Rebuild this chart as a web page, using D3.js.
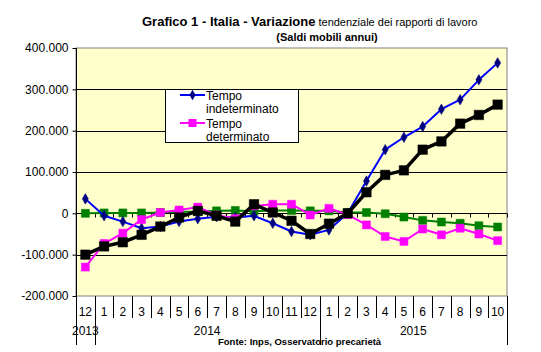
<!DOCTYPE html>
<html>
<head>
<meta charset="UTF-8">
<title>Grafico 1 - Italia</title>
<script src="https://d3js.org/d3.v7.min.js"></script>
<style>
  body { margin: 0; background: #fff; }
  svg { font-family: "Liberation Sans", Arial, sans-serif; }
</style>
</head>
<body>
<div id="chart"></div>
<script>
// categories (month, year)
var months = ["12","1","2","3","4","5","6","7","8","9","10","11","12","1","2","3","4","5","6","7","8","9","10"];
var years  = [2013,2014,2014,2014,2014,2014,2014,2014,2014,2014,2014,2014,2014,2015,2015,2015,2015,2015,2015,2015,2015,2015,2015];

// values, thousands
var indeterminato = [35,-6,-20,-36,-32,-20,-13,-8,-10,-6,-24,-44,-52,-40,0,78,154,184,210,252,275,323,364];
var determinato   = [-130,-73,-48,-15,2,8,15,-4,-13,18,22,22,-4,12,-3,-28,-56,-68,-38,-52,-36,-50,-66];
var verde         = [0,1,1,1,2,4,4,6,7,5,7,7,6,6,2,2,-1,-9,-17,-21,-24,-30,-33];
var totale        = [-100,-80,-70,-52,-32,-10,6,-6,-20,22,2,-18,-50,-25,0,51,93,104,154,174,217,238,263];

var yTicks = [-200000,-100000,0,100000,200000,300000,400000];

var W = 541, H = 352;
var margin = {top: 48, right: 34, bottom: 56, left: 76};
var plotW = W - margin.left - margin.right;
var plotH = H - margin.top - margin.bottom;

var svg = d3.select("#chart").append("svg")
  .attr("width", W).attr("height", H);

var loc = d3.formatLocale({decimal: ",", thousands: ".", grouping: [3], currency: ["", "€"], minus: "-"});
var fmt = loc.format(",d");

var x = d3.scaleBand()
  .domain(d3.range(months.length))
  .range([margin.left, margin.left + plotW])
  .padding(0);

var y = d3.scaleLinear()
  .domain([-200000, 400000])
  .range([margin.top + plotH, margin.top]);

// plot background
svg.append("rect")
  .attr("x", margin.left).attr("y", margin.top)
  .attr("width", plotW).attr("height", plotH)
  .attr("fill", "#ffffcc").attr("stroke", "#808080");

// gridlines
svg.append("g").selectAll("line")
  .data(yTicks.filter(function(d) { return d > -200000 && d < 400000 && d !== 0; }))
  .enter().append("line")
  .attr("x1", margin.left).attr("x2", margin.left + plotW)
  .attr("y1", function(d) { return Math.round(y(d)) + 0.5; })
  .attr("y2", function(d) { return Math.round(y(d)) + 0.5; })
  .attr("stroke", "#000").attr("stroke-width", 1);

// y axis
var yAxis = svg.append("g")
  .attr("transform", "translate(" + (margin.left + 0.5) + ",0)")
  .call(d3.axisLeft(y).tickValues(yTicks).tickSize(4).tickPadding(4).tickFormat(fmt));
yAxis.selectAll("text").attr("font-size", 12).attr("font-family", "Liberation Sans, Arial, sans-serif").attr("fill", "#000");
yAxis.selectAll("line, path").attr("stroke", "#000");
yAxis.select(".domain").attr("d", "M0," + margin.top + "V" + (margin.top + plotH));

// zero axis with category ticks
var y0 = Math.round(y(0)) + 0.5;
svg.append("line")
  .attr("x1", margin.left).attr("x2", margin.left + plotW)
  .attr("y1", y0).attr("y2", y0)
  .attr("stroke", "#000");
svg.append("g").selectAll("line")
  .data(d3.range(1, months.length + 1))
  .enter().append("line")
  .attr("x1", function(i) { return Math.round(margin.left + i * x.step()) + 0.5; })
  .attr("x2", function(i) { return Math.round(margin.left + i * x.step()) + 0.5; })
  .attr("y1", y0).attr("y2", y0 + 4)
  .attr("stroke", "#000");

// bottom category labels
var bottom = margin.top + plotH;
var lab = svg.append("g");
lab.selectAll("line.sep")
  .data(d3.range(0, months.length + 1))
  .enter().append("line")
  .attr("class", "sep")
  .attr("x1", function(i) { return Math.round(margin.left + i * x.step()) + 0.5; })
  .attr("x2", function(i) { return Math.round(margin.left + i * x.step()) + 0.5; })
  .attr("y1", bottom)
  .attr("y2", function(i) {
    var edge = i === 0 || i === months.length || years[i] !== years[i - 1];
    return edge ? bottom + 49 : bottom + 22;
  })
  .attr("stroke", "#000");
lab.selectAll("text.m")
  .data(months)
  .enter().append("text")
  .attr("class", "m")
  .attr("x", function(d, i) { return x(i) + x.bandwidth() / 2; })
  .attr("y", bottom + 20)
  .attr("text-anchor", "middle")
  .attr("font-size", 12)
  .text(function(d) { return d; });

// year labels
var yearGroups = d3.groups(d3.range(months.length), function(i) { return years[i]; });
lab.selectAll("text.yr")
  .data(yearGroups)
  .enter().append("text")
  .attr("class", "yr")
  .attr("x", function(g) {
    var a = g[1][0], b = g[1][g[1].length - 1];
    return (x(a) + x(b) + x.bandwidth()) / 2;
  })
  .attr("y", bottom + 39)
  .attr("text-anchor", "middle")
  .attr("font-size", 12)
  .text(function(g) { return g[0]; });

// series
var series = [
  {name: "verde", values: verde, line: "#008000", marker: "#008000", width: 2, sym: d3.symbolSquare, size: 64},
  {name: "Tempo indeterminato", values: indeterminato, line: "#0000ff", marker: "#000080", width: 2, sym: d3.symbolDiamond, size: 32},
  {name: "Tempo determinato", values: determinato, line: "#ff00ff", marker: "#ff00ff", width: 2, sym: d3.symbolSquare, size: 64},
  {name: "totale", values: totale, line: "#000000", marker: "#000000", width: 3.5, sym: d3.symbolSquare, size: 90}
];

var line = d3.line()
  .x(function(d, i) { return x(i) + x.bandwidth() / 2; })
  .y(function(d) { return y(d * 1000); });

series.forEach(function(s) {
  var g = svg.append("g");
  g.append("path")
    .attr("d", line(s.values))
    .attr("fill", "none")
    .attr("stroke", s.line)
    .attr("stroke-width", s.width)
    .attr("stroke-linejoin", "round");
  g.selectAll("path.mk")
    .data(s.values)
    .enter().append("path")
    .attr("class", "mk")
    .attr("transform", function(d, i) { return "translate(" + (x(i) + x.bandwidth() / 2) + "," + y(d * 1000) + ")"; })
    .attr("d", d3.symbol().type(s.sym).size(s.size))
    .attr("fill", s.marker)
    .attr("stroke", s.marker)
    .attr("stroke-opacity", 0.5)
    .attr("stroke-width", 1);
});

// legend
var leg = svg.append("g");
leg.append("rect")
  .attr("x", 165.5).attr("y", 89.5)
  .attr("width", 133).attr("height", 53)
  .attr("fill", "#fff").attr("stroke", "#000");
var legItems = [series[1], series[2]];
legItems.forEach(function(s, k) {
  var ly = 95 + k * 28;
  leg.append("line")
    .attr("x1", 180).attr("x2", 205)
    .attr("y1", ly).attr("y2", ly)
    .attr("stroke", s.line).attr("stroke-width", 2);
  leg.append("path")
    .attr("transform", "translate(192.5," + ly + ")")
    .attr("d", d3.symbol().type(s.sym).size(s.size))
    .attr("fill", s.marker);
  var words = s.name.split(" ");
  leg.append("text").attr("x", 206).attr("y", ly + 4.5).attr("font-size", 12).text(words[0]);
  leg.append("text").attr("x", 206).attr("y", ly + 18).attr("font-size", 12).text(words[1]);
});

// title
var t = svg.append("text").attr("x", 142).attr("y", 26);
t.append("tspan").attr("font-size", 13).attr("font-weight", "bold").text("Grafico 1 - Italia - Variazione");
t.append("tspan").attr("font-size", 11).text(" tendenziale dei rapporti di lavoro");
svg.append("text")
  .attr("x", 327).attr("y", 41)
  .attr("text-anchor", "middle")
  .attr("font-size", 11).attr("font-weight", "bold")
  .text("(Saldi mobili annui)");

// source
svg.append("text")
  .attr("x", 218).attr("y", 345)
  .attr("font-size", 9.5).attr("font-weight", "bold")
  .text("Fonte: Inps, Osservatorio precarietà");
</script>
</body>
</html>
